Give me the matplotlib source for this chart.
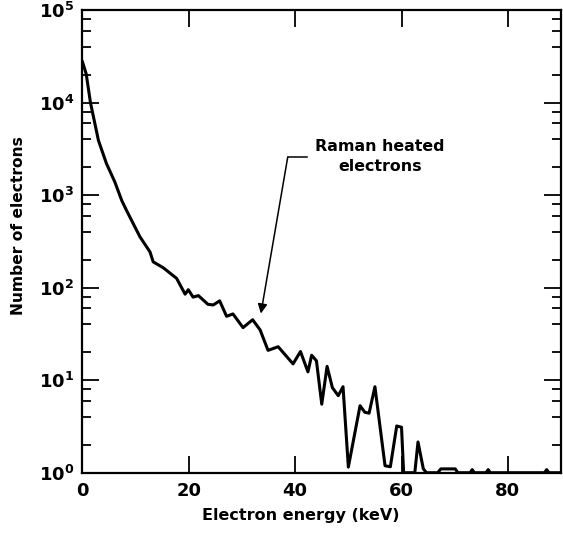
import matplotlib
matplotlib.use("Agg")
import matplotlib.pyplot as plt
from matplotlib.ticker import FixedLocator, NullFormatter

# ---- data ----
energy_kev = [0, 0.7, 1.5, 3.0, 4.5, 6.1, 7.4, 8.3, 10.8, 12.7, 13.3, 15.2, 17.7,
              19.3, 19.9, 20.8, 21.8, 23.6, 24.6, 25.8, 27.1, 28.3, 30.2, 32.0,
              33.4, 34.9, 36.8, 39.6, 41.0, 42.4, 43.1, 44.0, 45.0, 46.0, 47.0,
              48.1, 49.0, 50.0, 52.2, 53.1, 53.9, 55.0, 56.9, 57.9, 59.1, 60.0,
              60.4, 62.5, 63.1, 64.1, 64.7, 66.8, 67.4, 70.1, 70.6, 72.9, 73.3,
              73.7, 75.9, 76.3, 76.7, 86.9, 87.3, 87.7, 90.0]
n_electrons = [27500, 20400, 10000, 3900, 2200, 1380, 870, 680, 355, 243, 190, 164,
               126, 85, 95, 79, 82, 66, 65, 72, 49, 52, 37, 45, 35, 21, 23, 15,
               20.4, 12.3, 18.6, 16.2, 5.5, 14.1, 8.3, 6.8, 8.5, 1.15, 5.3, 4.5,
               4.4, 8.5, 1.19, 1.16, 3.2, 3.1, 1.0, 1.0, 2.15, 1.1, 1.0, 1.0, 1.1,
               1.1, 1.0, 1.0, 1.08, 1.0, 1.0, 1.08, 1.0, 1.0, 1.08, 1.0, 1.0]

x_ticks = [0, 20, 40, 60, 80]
y_decades = [0, 1, 2, 3, 4, 5]
y_minor_mult = [2, 4, 6, 8]

annot_text = "Raman heated\nelectrons"
annot_text_xy = (55.9, 2600)
annot_elbow_xy = (38.6, 2570)
annot_shelf_end_x = 42.2
annot_tip_xy = (33.55, 52.5)

# ---- figure ----
plt.rcParams['font.family'] = ['DejaVu Sans']
plt.rcParams['font.weight'] = 'bold'
plt.rcParams['mathtext.fontset'] = 'dejavusans'

fig = plt.figure(figsize=(5.63, 5.37), dpi=100)
ax = fig.add_axes([0.1465, 0.1197, 0.850, 0.8616])

ax.plot(energy_kev, n_electrons, color='black', lw=2.2, solid_joinstyle='round',
        clip_on=True)

ax.set_yscale('log')
ax.set_xlim(0, 90)
ax.set_ylim(1, 1e5)

ax.xaxis.set_major_locator(FixedLocator(x_ticks))
ax.set_xticklabels([str(t) for t in x_ticks])
ax.yaxis.set_major_locator(FixedLocator([10.0 ** d for d in y_decades]))
ax.set_yticklabels([r'$\mathbf{10^{%d}}$' % d for d in y_decades])
minor = [m * 10.0 ** d for d in y_decades[:-1] for m in y_minor_mult]
ax.yaxis.set_minor_locator(FixedLocator(minor))
ax.yaxis.set_minor_formatter(NullFormatter())
ax.xaxis.set_minor_locator(FixedLocator([]))

ax.tick_params(which='major', direction='in', length=12, width=1.3,
               top=True, right=True, labelsize=13)
ax.tick_params(which='minor', direction='in', length=6.5, width=1.3,
               top=True, right=True)
ax.tick_params(axis='x', which='major', pad=7)
ax.tick_params(axis='y', pad=6)
for s in ax.spines.values():
    s.set_linewidth(1.6)

ax.set_xlabel('Electron energy (keV)', fontsize=11.5, fontweight='bold')
ax.set_ylabel('Number of electrons', fontsize=11.2, fontweight='bold')
ax.xaxis.set_label_coords(0.457, -0.076)
ax.yaxis.set_label_coords(-0.119, 0.535)

# annotation
ax.text(annot_text_xy[0], annot_text_xy[1], annot_text, ha='center', va='center',
        fontsize=11.4, fontweight='bold', linespacing=1.45)
ax.plot([annot_elbow_xy[0], annot_shelf_end_x], [annot_elbow_xy[1]] * 2,
        color='black', lw=1.1)
ax.annotate('', xy=annot_tip_xy, xytext=annot_elbow_xy,
            arrowprops=dict(arrowstyle='-|>', color='black', lw=1.1,
                            mutation_scale=14, shrinkA=0, shrinkB=0))

fig.savefig('out.png', dpi=100)
